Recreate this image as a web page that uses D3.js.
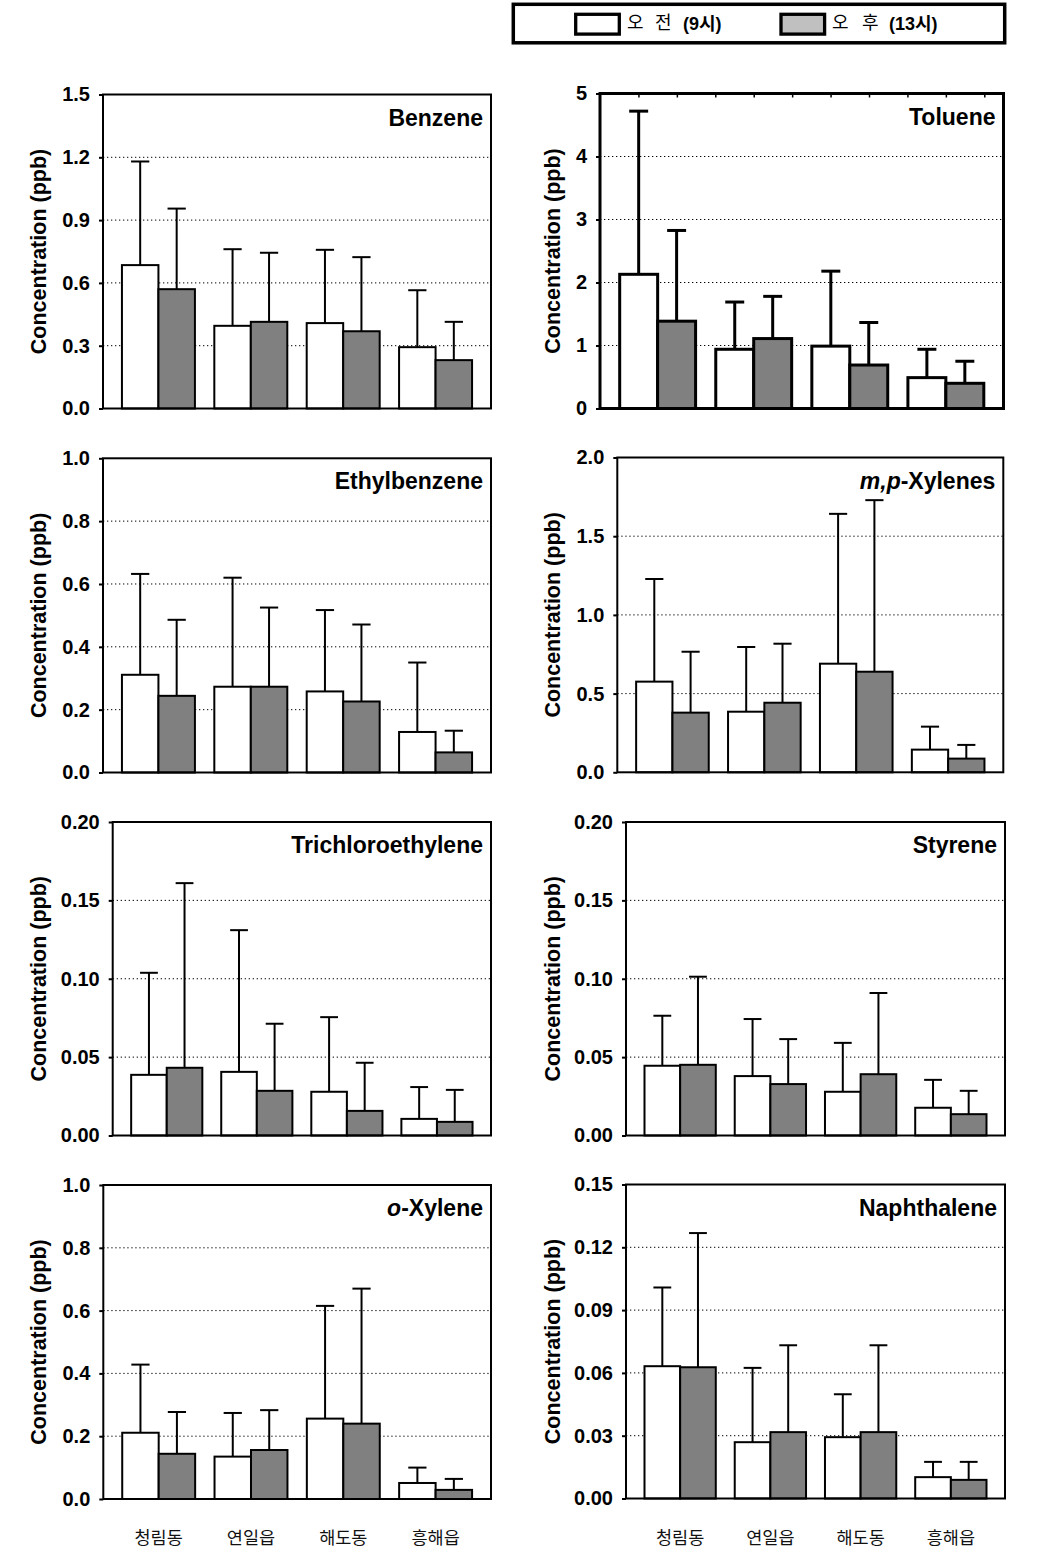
<!DOCTYPE html>
<html><head><meta charset="utf-8">
<script src="https://cdn.jsdelivr.net/npm/d3@7/dist/d3.min.js"></script>
<style>body{margin:0;background:#fff} svg{display:block}</style>
</head><body>
<svg id="c" width="1046" height="1561"></svg>
<script>
// ---------------- DATA ----------------
const sites = ["청림동", "연일읍", "해도동", "흥해읍"];
const compounds = ["Benzene", "Toluene", "Ethylbenzene", "m,p-Xylenes", "Trichloroethylene", "Styrene", "o-Xylene", "Naphthalene"];
const seriesNames = ["(9시)", "(13시)"];
const seriesPrefix = [["오", "전"], ["오", "후"]];
// morning (9h) means per compound, per site
const meanAM = [
  [0.685, 0.395, 0.408, 0.293],
  [2.13, 0.94, 0.99, 0.49],
  [0.311, 0.273, 0.258, 0.129],
  [0.576, 0.385, 0.690, 0.144],
  [0.0387, 0.0406, 0.0279, 0.0106],
  [0.0445, 0.0379, 0.0279, 0.0177],
  [0.211, 0.135, 0.256, 0.051],
  [0.0632, 0.0269, 0.0293, 0.0102]
];
// afternoon (13h) means
const meanPM = [
  [0.570, 0.414, 0.369, 0.231],
  [1.386, 1.11, 0.69, 0.40],
  [0.244, 0.273, 0.226, 0.064],
  [0.379, 0.442, 0.639, 0.087],
  [0.0432, 0.0285, 0.0157, 0.0087],
  [0.0451, 0.0328, 0.0391, 0.0136],
  [0.144, 0.156, 0.240, 0.029],
  [0.0627, 0.0317, 0.0317, 0.0089]
];
// standard deviations (upper error bars)
const sdAM = [
  [0.495, 0.366, 0.350, 0.272],
  [2.59, 0.75, 1.19, 0.45],
  [0.321, 0.347, 0.259, 0.221],
  [0.652, 0.411, 0.952, 0.146],
  [0.0651, 0.0904, 0.0476, 0.0203],
  [0.0319, 0.0364, 0.0312, 0.0178],
  [0.217, 0.139, 0.359, 0.049],
  [0.0376, 0.0355, 0.0205, 0.0073]
];
const sdPM = [
  [0.385, 0.330, 0.354, 0.183],
  [1.44, 0.67, 0.675, 0.35],
  [0.242, 0.252, 0.245, 0.069],
  [0.387, 0.375, 1.090, 0.087],
  [0.1178, 0.0428, 0.0307, 0.0204],
  [0.0562, 0.0287, 0.0518, 0.0149],
  [0.133, 0.127, 0.430, 0.035],
  [0.0641, 0.0415, 0.0415, 0.0086]
];
const yMax = [1.5, 5, 1.0, 2.0, 0.20, 0.20, 1.0, 0.15];
const yStep = [0.3, 1, 0.2, 0.5, 0.05, 0.05, 0.2, 0.03];
const yFormat = [".1f", "d", ".1f", ".1f", ".2f", ".2f", ".1f", ".2f"];

// ---------------- LAYOUT ----------------
const frames = [
  {l: 103, r: 491, t: 94.5, b: 408.5, w: 2},
  {l: 600, r: 1003.5, t: 93.5, b: 408.5, w: 3},
  {l: 103, r: 491, t: 458.3, b: 772.5, w: 2},
  {l: 617.3, r: 1003.3, t: 457.5, b: 772.3, w: 2},
  {l: 112.7, r: 491, t: 822, b: 1135.5, w: 2},
  {l: 626, r: 1005, t: 822, b: 1135.5, w: 2},
  {l: 103.3, r: 491, t: 1185, b: 1499, w: 2},
  {l: 626, r: 1005, t: 1184.5, b: 1498.5, w: 2}
];
const yTitleX = [38.7, 553];
const FONT = "'Liberation Sans', Arial, 'Noto Sans CJK KR', sans-serif";
const KFONT = "'Noto Sans CJK KR', 'Liberation Sans', sans-serif";
const fills = ["#ffffff", "#808080"];

const svg = d3.select("#c");

compounds.forEach((name, i) => {
  const f = frames[i];
  const col = i % 2;
  const g = svg.append("g");
  const y = d3.scaleLinear().domain([0, yMax[i]]).range([f.b, f.t]);
  const x = d3.scalePoint().domain(sites).range([f.l, f.r]).padding(0.6);
  const bw = x.step() * 0.395;
  const n = Math.round(yMax[i] / yStep[i]);
  const ticks = d3.range(0, n + 1).map(k => k * yStep[i]);

  // dotted grid
  g.selectAll("line.grid").data(ticks.slice(1, -1)).join("line")
    .attr("x1", f.l).attr("x2", f.r)
    .attr("y1", d => y(d)).attr("y2", d => y(d))
    .attr("stroke", "#000").attr("stroke-width", 1)
    .attr("stroke-dasharray", "1.3,2.7");

  const rows = sites.map((s, k) => ({s, am: meanAM[i][k], pm: meanPM[i][k], sa: sdAM[i][k], sp: sdPM[i][k]}));
  const bars = [];
  rows.forEach(r => {
    bars.push({x: x(r.s) - bw, v: r.am, sd: r.sa, fill: fills[0]});
    bars.push({x: x(r.s), v: r.pm, sd: r.sp, fill: fills[1]});
  });

  // error bars
  const eg = g.append("g");
  eg.selectAll("line.stem").data(bars).join("line")
    .attr("x1", d => d.x + bw / 2).attr("x2", d => d.x + bw / 2)
    .attr("y1", d => y(d.v)).attr("y2", d => y(d.v + d.sd))
    .attr("stroke", "#000").attr("stroke-width", f.w);
  eg.selectAll("line.cap").data(bars).join("line")
    .attr("x1", d => d.x + bw / 2 - bw * 0.25).attr("x2", d => d.x + bw / 2 + bw * 0.25)
    .attr("y1", d => y(d.v + d.sd)).attr("y2", d => y(d.v + d.sd))
    .attr("stroke", "#000").attr("stroke-width", f.w);

  g.selectAll("rect.bar").data(bars).join("rect")
    .attr("x", d => d.x).attr("width", bw)
    .attr("y", d => y(d.v)).attr("height", d => y(0) - y(d.v))
    .attr("fill", d => d.fill).attr("stroke", "#000").attr("stroke-width", f.w);

  // frame
  g.append("rect").attr("x", f.l).attr("y", f.t).attr("width", f.r - f.l).attr("height", f.b - f.t)
    .attr("fill", "none").attr("stroke", "#000").attr("stroke-width", f.w);

  // Toluene secondary top ticks
  if (name === "Toluene") {
    const x2 = d3.scaleLinear().domain([0, 10.5]).range([f.l, f.r]);
    const ax2 = g.append("g").attr("transform", `translate(0,${f.t})`)
      .call(d3.axisBottom(x2).tickValues(d3.range(1, 11)).tickSize(4).tickFormat(""));
    ax2.select(".domain").remove();
    ax2.selectAll("line").attr("stroke-width", 1.5);
  }

  // y axis
  const ax = g.append("g").attr("transform", `translate(${f.l},0)`)
    .call(d3.axisLeft(y).tickValues(ticks).tickSize(4).tickPadding(9).tickFormat(d3.format(yFormat[i])));
  ax.select(".domain").remove();
  ax.selectAll("line").attr("stroke", "#000").attr("stroke-width", 2);
  ax.selectAll("text").attr("font-family", FONT).attr("font-weight", "bold")
    .attr("font-size", 20).attr("fill", "#000");

  // y title
  g.append("text")
    .attr("transform", `translate(${yTitleX[col]},${(f.t + f.b) / 2}) rotate(-90)`)
    .attr("text-anchor", "middle").attr("dominant-baseline", "central")
    .attr("font-family", FONT).attr("font-weight", "bold").attr("font-size", 21.5)
    .text("Concentration (ppb)");

  // panel title
  const t = g.append("text").attr("x", f.r - 8).attr("y", f.t + 31)
    .attr("text-anchor", "end").attr("font-family", FONT).attr("font-weight", "bold").attr("font-size", 23);
  if (name === "m,p-Xylenes") {
    t.append("tspan").attr("font-style", "italic").text("m,p");
    t.append("tspan").text("-Xylenes");
  } else if (name === "o-Xylene") {
    t.append("tspan").attr("font-style", "italic").text("o");
    t.append("tspan").text("-Xylene");
  } else t.text(name);

  // category labels for bottom row
  if (i >= 6) {
    g.selectAll("text.cat").data(sites).join("text")
      .attr("x", d => x(d)).attr("y", 1544)
      .attr("text-anchor", "middle").attr("font-family", KFONT).attr("font-size", 17.5)
      .attr("fill", "#111").text(d => d);
  }
});

// ---------------- LEGEND ----------------
const lg = svg.append("g");
lg.append("rect").attr("x", 513.3).attr("y", 4.3).attr("width", 491.4).attr("height", 38.5)
  .attr("fill", "#fff").attr("stroke", "#000").attr("stroke-width", 3.5);
const legendFills = ["#ffffff", "#c0c0c0"];
const legendX = [575.7, 781];
const textX = [[627, 655, 683], [832, 862, 889]];
seriesNames.forEach((s, k) => {
  lg.append("rect").attr("x", legendX[k]).attr("y", 14.3).attr("width", 43.6).attr("height", 19.8)
    .attr("fill", legendFills[k]).attr("stroke", "#000").attr("stroke-width", 3.3);
  lg.append("text").attr("x", textX[k][0]).attr("y", 29).attr("font-family", KFONT).attr("font-size", 18).text(seriesPrefix[k][0]);
  lg.append("text").attr("x", textX[k][1]).attr("y", 29).attr("font-family", KFONT).attr("font-size", 18).text(seriesPrefix[k][1]);
  lg.append("text").attr("x", textX[k][2]).attr("y", 29.5).attr("font-family", FONT).attr("font-weight", "bold").attr("font-size", 18).text(s);
});
</script>
</body></html>
